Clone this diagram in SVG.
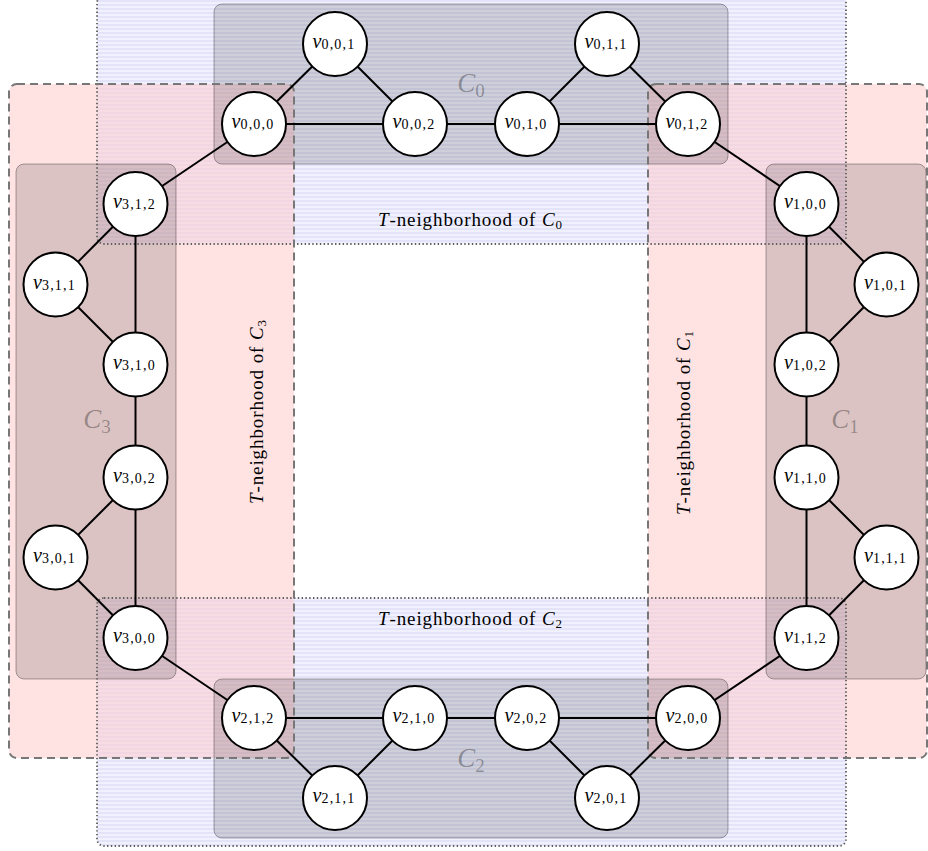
<svg xmlns="http://www.w3.org/2000/svg" width="928" height="851" viewBox="0 0 928 851">
<style>
.bg{fill:#fff}
.nbB{fill:url(#hstripe)}
.nbP{fill:#ffc9c9;fill-opacity:0.52}
.brdB{fill:none;stroke:#5e5e5e;stroke-width:1.8;stroke-dasharray:1.4 2.4}
.brdP{fill:none;stroke:#777;stroke-width:2;stroke-dasharray:8 5}
.cr{fill:#000;fill-opacity:0.14;stroke:#000;stroke-opacity:0.32;stroke-width:1}
.cl{font-family:"Liberation Serif",serif;text-anchor:middle;fill:#000;fill-opacity:0.32}
.cl .m{font-style:italic;font-size:27px}
.cl .s{font-size:19px}
.nl{font-family:"Liberation Serif",serif;font-size:19px;letter-spacing:0.9px;text-anchor:middle;fill:#000}
.it{font-style:italic}
.nl .s{font-size:13px;letter-spacing:0}
#edges line{stroke:#000;stroke-width:2}
.nd circle{fill:#fff;stroke:#000;stroke-width:2}
.nd text{font-family:"Liberation Serif",serif;text-anchor:middle;fill:#000}
.nd .v{font-style:italic;font-size:20px}
.nd .s{font-size:14px;letter-spacing:1.2px}
</style>
<defs>
<pattern id="hstripe" x="0" y="0" width="4" height="4" patternUnits="userSpaceOnUse">
<rect width="4" height="4" fill="#f1f1fe"/>
<rect width="4" height="2" fill="#e3e3fa"/>
</pattern>
</defs>
<rect class="bg" x="0" y="0" width="928" height="851"/>
<g id="regions">
<g id="nbhd-C0"><rect class="nbB" x="97" y="-4" width="749" height="248" rx="7"/></g>
<g id="nbhd-C2"><rect class="nbB" x="97" y="598" width="749" height="248" rx="7"/></g>
<g id="nbhd-C3"><rect class="nbP" x="9" y="84" width="285" height="674" rx="8"/></g>
<g id="nbhd-C1"><rect class="nbP" x="648" y="84" width="279" height="674" rx="8"/></g>
<g id="C0"><rect class="cr" x="214" y="4" width="514" height="160" rx="8"/></g>
<g id="C2"><rect class="cr" x="214" y="679" width="514" height="159" rx="8"/></g>
<g id="C3"><rect class="cr" x="16" y="164" width="160" height="515" rx="8"/></g>
<g id="C1"><rect class="cr" x="766" y="164" width="160" height="515" rx="8"/></g>
<rect class="brdB" x="97" y="-4" width="749" height="248" rx="7"/>
<rect class="brdB" x="97" y="598" width="749" height="248" rx="7"/>
<rect class="brdP" x="9" y="84" width="285" height="674" rx="8"/>
<rect class="brdP" x="648" y="84" width="279" height="674" rx="8"/>
</g>
<g id="region-labels">
<text class="cl" x="471" y="92"><tspan class="m">C</tspan><tspan class="s" dy="5">0</tspan></text>
<text class="cl" x="471" y="767"><tspan class="m">C</tspan><tspan class="s" dy="5">2</tspan></text>
<text class="cl" x="97" y="428"><tspan class="m">C</tspan><tspan class="s" dy="5">3</tspan></text>
<text class="cl" x="845" y="428"><tspan class="m">C</tspan><tspan class="s" dy="5">1</tspan></text>
<text class="nl" x="470" y="226"><tspan class="it">T</tspan>-neighborhood of <tspan class="it">C</tspan><tspan class="s" dy="3">0</tspan></text>
<text class="nl" x="470" y="625"><tspan class="it">T</tspan>-neighborhood of <tspan class="it">C</tspan><tspan class="s" dy="3">2</tspan></text>
<text class="nl" transform="translate(263,412) rotate(-90)"><tspan class="it">T</tspan>-neighborhood of <tspan class="it">C</tspan><tspan class="s" dy="3">3</tspan></text>
<text class="nl" transform="translate(690,423) rotate(-90)"><tspan class="it">T</tspan>-neighborhood of <tspan class="it">C</tspan><tspan class="s" dy="3">1</tspan></text>
</g>
<g id="edges">
<line x1="254" y1="124" x2="335" y2="44"/>
<line x1="335" y1="44" x2="415" y2="124"/>
<line x1="254" y1="124" x2="415" y2="124"/>
<line x1="415" y1="124" x2="527" y2="124"/>
<line x1="527" y1="124" x2="607" y2="44"/>
<line x1="607" y1="44" x2="688" y2="124"/>
<line x1="527" y1="124" x2="688" y2="124"/>
<line x1="688" y1="124" x2="806.5" y2="204"/>
<line x1="806.5" y1="204" x2="886.5" y2="284.5"/>
<line x1="886.5" y1="284.5" x2="806.5" y2="364.5"/>
<line x1="806.5" y1="204" x2="806.5" y2="364.5"/>
<line x1="806.5" y1="364.5" x2="806.5" y2="477.5"/>
<line x1="806.5" y1="477.5" x2="886.5" y2="557.5"/>
<line x1="886.5" y1="557.5" x2="806.5" y2="638"/>
<line x1="806.5" y1="477.5" x2="806.5" y2="638"/>
<line x1="806.5" y1="638" x2="688" y2="718"/>
<line x1="688" y1="718" x2="607" y2="798"/>
<line x1="607" y1="798" x2="527" y2="718"/>
<line x1="688" y1="718" x2="527" y2="718"/>
<line x1="527" y1="718" x2="415" y2="718"/>
<line x1="415" y1="718" x2="335" y2="798"/>
<line x1="335" y1="798" x2="254" y2="718"/>
<line x1="415" y1="718" x2="254" y2="718"/>
<line x1="254" y1="718" x2="135.5" y2="638"/>
<line x1="135.5" y1="638" x2="55.5" y2="557.5"/>
<line x1="55.5" y1="557.5" x2="135.5" y2="477.5"/>
<line x1="135.5" y1="638" x2="135.5" y2="477.5"/>
<line x1="135.5" y1="477.5" x2="135.5" y2="364.5"/>
<line x1="135.5" y1="364.5" x2="55.5" y2="284.5"/>
<line x1="55.5" y1="284.5" x2="135.5" y2="204"/>
<line x1="135.5" y1="364.5" x2="135.5" y2="204"/>
<line x1="135.5" y1="204" x2="254" y2="124"/>
</g>
<g id="nodes">
<g class="nd" id="v000"><circle cx="254" cy="124" r="32"/><text x="253" y="128"><tspan class="v">v</tspan><tspan class="s" dy="1.3">0,0,0</tspan></text></g>
<g class="nd" id="v001"><circle cx="335" cy="44" r="32"/><text x="334" y="48"><tspan class="v">v</tspan><tspan class="s" dy="1.3">0,0,1</tspan></text></g>
<g class="nd" id="v002"><circle cx="415" cy="124" r="32"/><text x="414" y="128"><tspan class="v">v</tspan><tspan class="s" dy="1.3">0,0,2</tspan></text></g>
<g class="nd" id="v010"><circle cx="527" cy="124" r="32"/><text x="526" y="128"><tspan class="v">v</tspan><tspan class="s" dy="1.3">0,1,0</tspan></text></g>
<g class="nd" id="v011"><circle cx="607" cy="44" r="32"/><text x="606" y="48"><tspan class="v">v</tspan><tspan class="s" dy="1.3">0,1,1</tspan></text></g>
<g class="nd" id="v012"><circle cx="688" cy="124" r="32"/><text x="687" y="128"><tspan class="v">v</tspan><tspan class="s" dy="1.3">0,1,2</tspan></text></g>
<g class="nd" id="v100"><circle cx="806.5" cy="204" r="32"/><text x="805.5" y="208"><tspan class="v">v</tspan><tspan class="s" dy="1.3">1,0,0</tspan></text></g>
<g class="nd" id="v101"><circle cx="886.5" cy="284.5" r="32"/><text x="885.5" y="288.5"><tspan class="v">v</tspan><tspan class="s" dy="1.3">1,0,1</tspan></text></g>
<g class="nd" id="v102"><circle cx="806.5" cy="364.5" r="32"/><text x="805.5" y="368.5"><tspan class="v">v</tspan><tspan class="s" dy="1.3">1,0,2</tspan></text></g>
<g class="nd" id="v110"><circle cx="806.5" cy="477.5" r="32"/><text x="805.5" y="481.5"><tspan class="v">v</tspan><tspan class="s" dy="1.3">1,1,0</tspan></text></g>
<g class="nd" id="v111"><circle cx="886.5" cy="557.5" r="32"/><text x="885.5" y="561.5"><tspan class="v">v</tspan><tspan class="s" dy="1.3">1,1,1</tspan></text></g>
<g class="nd" id="v112"><circle cx="806.5" cy="638" r="32"/><text x="805.5" y="642"><tspan class="v">v</tspan><tspan class="s" dy="1.3">1,1,2</tspan></text></g>
<g class="nd" id="v200"><circle cx="688" cy="718" r="32"/><text x="687" y="722"><tspan class="v">v</tspan><tspan class="s" dy="1.3">2,0,0</tspan></text></g>
<g class="nd" id="v201"><circle cx="607" cy="798" r="32"/><text x="606" y="802"><tspan class="v">v</tspan><tspan class="s" dy="1.3">2,0,1</tspan></text></g>
<g class="nd" id="v202"><circle cx="527" cy="718" r="32"/><text x="526" y="722"><tspan class="v">v</tspan><tspan class="s" dy="1.3">2,0,2</tspan></text></g>
<g class="nd" id="v210"><circle cx="415" cy="718" r="32"/><text x="414" y="722"><tspan class="v">v</tspan><tspan class="s" dy="1.3">2,1,0</tspan></text></g>
<g class="nd" id="v211"><circle cx="335" cy="798" r="32"/><text x="334" y="802"><tspan class="v">v</tspan><tspan class="s" dy="1.3">2,1,1</tspan></text></g>
<g class="nd" id="v212"><circle cx="254" cy="718" r="32"/><text x="253" y="722"><tspan class="v">v</tspan><tspan class="s" dy="1.3">2,1,2</tspan></text></g>
<g class="nd" id="v300"><circle cx="135.5" cy="638" r="32"/><text x="134.5" y="642"><tspan class="v">v</tspan><tspan class="s" dy="1.3">3,0,0</tspan></text></g>
<g class="nd" id="v301"><circle cx="55.5" cy="557.5" r="32"/><text x="54.5" y="561.5"><tspan class="v">v</tspan><tspan class="s" dy="1.3">3,0,1</tspan></text></g>
<g class="nd" id="v302"><circle cx="135.5" cy="477.5" r="32"/><text x="134.5" y="481.5"><tspan class="v">v</tspan><tspan class="s" dy="1.3">3,0,2</tspan></text></g>
<g class="nd" id="v310"><circle cx="135.5" cy="364.5" r="32"/><text x="134.5" y="368.5"><tspan class="v">v</tspan><tspan class="s" dy="1.3">3,1,0</tspan></text></g>
<g class="nd" id="v311"><circle cx="55.5" cy="284.5" r="32"/><text x="54.5" y="288.5"><tspan class="v">v</tspan><tspan class="s" dy="1.3">3,1,1</tspan></text></g>
<g class="nd" id="v312"><circle cx="135.5" cy="204" r="32"/><text x="134.5" y="208"><tspan class="v">v</tspan><tspan class="s" dy="1.3">3,1,2</tspan></text></g>
</g>
</svg>
